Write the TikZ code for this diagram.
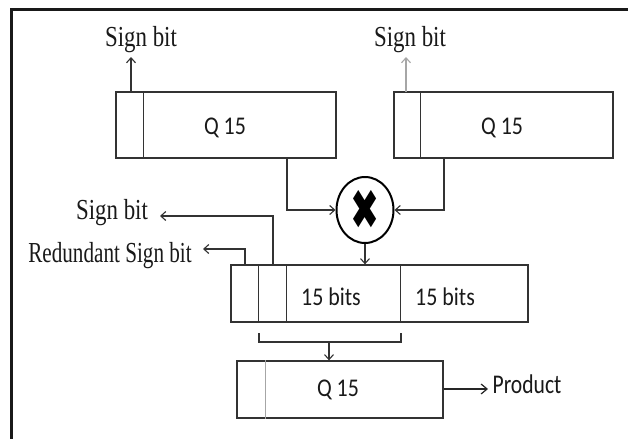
\documentclass[tikz,border=0pt]{standalone}
\usepackage{fontspec}
\setmainfont{Liberation Serif}
\newfontfamily\calfont{Carlito}
\newfontfamily\djfont{DejaVu Sans}
\usetikzlibrary{arrows.meta,shapes.geometric}
\newcommand{\serif}[2]{\scalebox{#1}[1]{\fontsize{29}{31}\selectfont #2}}
\newcommand{\sans}[2]{\scalebox{#1}[1]{\calfont\fontsize{25.5}{27}\selectfont #2}}
\tikzset{
  reg/.style={draw=black!80, line width=1.3pt, rectangle, inner sep=0pt},
  conn/.style={draw=black!80, line width=1.1pt},
  arr/.style={conn, -{Straight Barb[length=5pt,width=9pt,line width=1.1pt]}},
  lbl/.style={inner sep=0pt, text=black!90},
}
\begin{document}
\begin{tikzpicture}[x=1pt,y=-1pt]
\useasboundingbox (0,0) rectangle (628,439);
% frame
\draw[line width=3pt, black!90] (628,9) -- (11,9) -- (11,439);
% registers
\node[reg, minimum width=220pt, minimum height=66pt] (A) at (226,125) {};
\node[reg, minimum width=219pt, minimum height=66pt] (B) at (503.5,125) {};
\node[reg, minimum width=297pt, minimum height=57pt] (C) at (379.5,293.5) {};
\node[reg, minimum width=206pt, minimum height=57pt] (D) at (340,389.5) {};
\node[draw=black, line width=2pt, ellipse, minimum width=57pt, minimum height=66pt, inner sep=0pt] (M) at (365,210) {};
\node[lbl, text=black] (X) at (365,210) {\scalebox{0.62}[1]{\djfont\fontsize{56}{56}\selectfont ✖}};
% dividers
\draw[conn] ([xshift=28pt]A.north west) -- ([xshift=28pt]A.south west);
\draw[conn] ([xshift=27pt]B.north west) -- ([xshift=27pt]B.south west);
\draw[conn] ([xshift=28pt]C.north west) -- ([xshift=28pt]C.south west);
\draw[conn] ([xshift=56pt]C.north west) -- ([xshift=56pt]C.south west);
\draw[conn] ([xshift=170pt]C.north west) -- ([xshift=170pt]C.south west);
\draw[draw=black!35, line width=1pt] ([xshift=29pt]D.north west) -- ([xshift=29pt]D.south west);
% texts
\node[lbl] (qa) at (225,128) {\sans{0.86}{Q 15}};
\node[lbl] (qb) at (502,128) {\sans{0.86}{Q 15}};
\node[lbl] (c1) at (331,297) {\sans{0.86}{15 bits}};
\node[lbl] (c2) at (445,297) {\sans{0.86}{15 bits}};
\node[lbl] (qd) at (338,390) {\sans{0.86}{Q 15}};
\node[lbl] (prod) at (527,384) {\sans{0.8}{\fontsize{27}{29}\selectfont Product}};
\node[lbl] (sbl) at (141,40) {\serif{0.79}{Sign bit}};
\node[lbl] (sbr) at (410,40) {\serif{0.79}{Sign bit}};
\node[lbl] (sbm) at (112,213) {\serif{0.79}{Sign bit}};
\node[lbl] (rsb) at (110,256) {\serif{0.73}{Redundant Sign bit}};
% coordinates
\coordinate (a1) at (131,92);
\coordinate (a1t) at (131,57);
\coordinate (b1) at (406,92);
\coordinate (b1t) at (406,57);
\coordinate (a2) at (287,158);
\coordinate (b2) at (444,158);
\coordinate (c3) at (273,265);
\coordinate (c3t) at (160,216);
\coordinate (c4) at (245,265);
\coordinate (c4t) at (203,249);
\coordinate (k1) at (259,333);
\coordinate (k2) at (401,333);
\coordinate (k3) at (329,342);
\coordinate (pe) at (488,389);
% connectors
\draw[arr] (a1) -- (a1t);
\draw[arr, draw=black!35] (b1) -- (b1t);
\draw[arr] (a2) |- (M.west);
\draw[arr] (b2) |- (M.east);
\draw[arr] (M.south) -- (M.south |- C.north);
\draw[arr] (c3) |- (c3t);
\draw[arr] (c4) |- (c4t);
\draw[conn] (k1) -- (k1 |- k3) -- (k2 |- k3) -- (k2);
\draw[arr] (k3) -- (k3 |- D.north);
\draw[line width=2.6pt, draw=black!85, -{Straight Barb[length=6pt,width=10pt,line width=1.2pt]}] (D.east |- pe) -- (pe);
\end{tikzpicture}
\end{document}
